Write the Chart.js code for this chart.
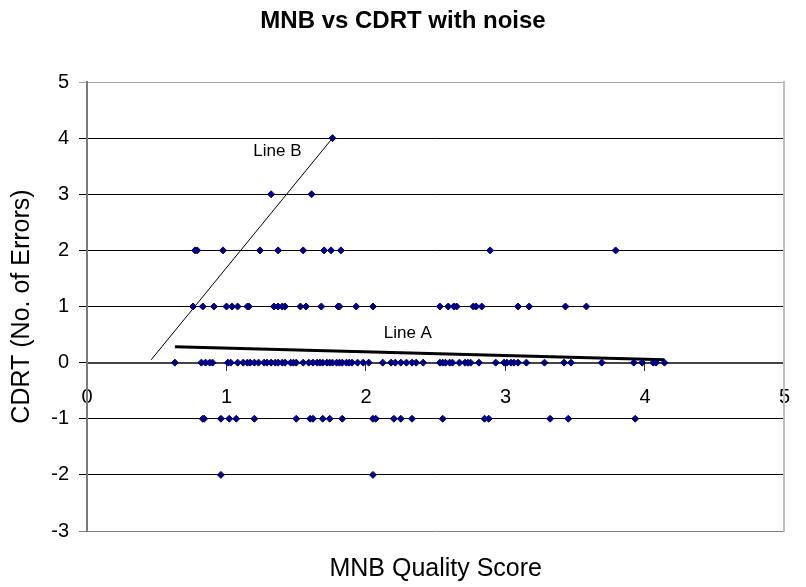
<!DOCTYPE html>
<html>
<head>
<meta charset="utf-8">
<script src="https://cdn.jsdelivr.net/npm/chart.js@4.4.1/dist/chart.umd.min.js"></script>
<style>
    html, body { margin: 0; padding: 0; background: #fff; }
    #contenedor { width: 806px; height: 587px; }
</style>
</head>
<body>
<div id="contenedor"><canvas id="myChart"></canvas></div>
<script>
// Puntuaciones MNB agrupadas por valor de CDRT
const mnbEn4 = [1.76];
const mnbEn3 = [1.32, 1.61];
const mnbEn2 = [0.775, 0.79, 0.975, 1.24, 1.37, 1.55, 1.70, 1.75, 1.82, 2.89, 3.79];
const mnbEn1 = [0.76, 0.83, 0.91, 1.00, 1.04, 1.08, 1.15, 1.16, 1.34, 1.37, 1.40, 1.42, 1.53, 1.57, 1.68,
    1.80, 1.81, 1.93, 2.05, 2.53, 2.59, 2.63, 2.65, 2.77, 2.79, 2.83, 3.09, 3.17, 3.43, 3.58];
const mnbEn0 = [0.63, 0.82, 0.85, 0.88, 0.90, 1.01, 1.03, 1.08, 1.12, 1.15, 1.17, 1.20, 1.23, 1.27, 1.29,
    1.32, 1.35, 1.37, 1.40, 1.42, 1.46, 1.48, 1.50, 1.55, 1.59, 1.62, 1.65, 1.67, 1.69, 1.72, 1.74, 1.76,
    1.79, 1.81, 1.83, 1.86, 1.88, 1.90, 1.94, 1.98, 2.02, 2.12, 2.18, 2.21, 2.25, 2.29, 2.33, 2.36, 2.41,
    2.53, 2.55, 2.57, 2.60, 2.62, 2.67, 2.71, 2.73, 2.75, 2.81, 2.93, 2.99, 3.01, 3.04, 3.06, 3.09, 3.15,
    3.28, 3.42, 3.47, 3.69, 3.92, 3.98, 4.06, 4.08, 4.14];
const mnbEnMenos1 = [0.83, 0.84, 0.96, 1.02, 1.07, 1.20, 1.50, 1.60, 1.62, 1.69, 1.74, 1.83, 2.05, 2.07,
    2.20, 2.25, 2.33, 2.55, 2.85, 2.88, 3.32, 3.45, 3.93];
const mnbEnMenos2 = [0.96, 2.05];

const nivelesCdrt = [4, 3, 2, 1, 0, -1, -2];
const grupos = [mnbEn4, mnbEn3, mnbEn2, mnbEn1, mnbEn0, mnbEnMenos1, mnbEnMenos2];

// Lineas dibujadas a mano en el original
const lineaAx = [0.63, 4.14];
const lineaAy = [0.285, 0.05];
const lineaBx = [0.46, 1.76];
const lineaBy = [0.05, 4.0];

// Etiquetas de las lineas (en unidades del grafico)
const etiquetas = ['Line A', 'Line B'];
const etiquetasX = [2.30, 1.365];
const etiquetasY = [0.53, 3.77];

const fuente = "'Liberation Sans', Arial, sans-serif";

document.addEventListener('DOMContentLoaded', function() {
    const ctx = document.getElementById('myChart').getContext('2d');

    // Construir los puntos
    const puntos = [];
    grupos.forEach((grupo, i) => {
        grupo.forEach(x => puntos.push({ x: x, y: nivelesCdrt[i] }));
    });

    const aPuntos = (xs, ys) => xs.map((x, i) => ({ x: x, y: ys[i] }));

    // Plugin para escribir "Line A" y "Line B"
    const textoLineas = {
        id: 'textoLineas',
        afterDatasetsDraw(chart) {
            const c = chart.ctx;
            const sx = chart.scales.x;
            const sy = chart.scales.y;
            c.save();
            c.font = '17px ' + fuente;
            c.fillStyle = '#000';
            c.textAlign = 'center';
            c.textBaseline = 'middle';
            etiquetas.forEach((t, i) => {
                c.fillText(t, sx.getPixelForValue(etiquetasX[i]), sy.getPixelForValue(etiquetasY[i]));
            });
            c.restore();
        }
    };

    new Chart(ctx, {
        type: 'scatter',
        data: {
            datasets: [{
                label: 'MNB vs CDRT',
                data: puntos,
                pointStyle: 'rectRot',
                pointRadius: 3.5,
                pointBorderWidth: 1,
                backgroundColor: '#000080',
                borderColor: '#000080',
                showLine: false
            }, {
                label: 'Line A',
                data: aPuntos(lineaAx, lineaAy),
                showLine: true,
                pointRadius: 0,
                borderColor: '#000',
                borderWidth: 3
            }, {
                label: 'Line B',
                data: aPuntos(lineaBx, lineaBy),
                showLine: true,
                pointRadius: 0,
                borderColor: '#000',
                borderWidth: 1
            }]
        },
        options: {
            responsive: true,
            maintainAspectRatio: false,
            animation: false,
            layout: { padding: 0 },
            plugins: {
                legend: { display: false },
                tooltip: { enabled: false },
                title: {
                    display: true,
                    text: 'MNB vs CDRT with noise',
                    color: '#000',
                    font: { family: fuente, size: 24, weight: 'bold' },
                    padding: { top: 7, bottom: 46.2 }
                }
            },
            scales: {
                x: {
                    type: 'linear',
                    position: { y: 0 },
                    min: 0,
                    max: 5,
                    afterFit: (s) => { s.height = 0; },
                    ticks: {
                        stepSize: 1,
                        color: '#000',
                        padding: 16,
                        font: { family: fuente, size: 20 }
                    },
                    grid: {
                        drawOnChartArea: false,
                        drawTicks: true,
                        tickLength: 7,
                        color: '#333'
                    },
                    border: { color: '#444', width: 2 }
                },
                xt: {
                    type: 'linear',
                    position: 'bottom',
                    min: 0,
                    max: 5,
                    afterFit: (s) => { s.height = 56; },
                    ticks: { display: false },
                    grid: { display: false },
                    border: { display: false },
                    title: {
                        display: true,
                        text: 'MNB Quality Score',
                        color: '#000',
                        font: { family: fuente, size: 25 },
                        padding: { top: 0, bottom: 3 }
                    }
                },
                y: {
                    type: 'linear',
                    position: 'left',
                    min: -3,
                    max: 5,
                    afterFit: (s) => { s.width = 87; },
                    ticks: {
                        stepSize: 1,
                        color: '#000',
                        padding: 10,
                        font: { family: fuente, size: 20 }
                    },
                    grid: {
                        tickLength: 8,
                        color: (c) => {
                            if (c.tick && c.tick.value === 5) return '#a8a8a8';
                            if (c.tick && c.tick.value === -3) return '#808080';
                            return '#000';
                        }
                    },
                    border: { color: '#7a7a7a', width: 2 },
                    title: {
                        display: true,
                        text: 'CDRT (No. of Errors)',
                        color: '#000',
                        font: { family: fuente, size: 25 },
                        padding: { top: 7, bottom: 0 }
                    }
                },
                y2: {
                    type: 'linear',
                    position: 'right',
                    min: -3,
                    max: 5,
                    afterFit: (s) => { s.width = 11; },
                    ticks: { display: false },
                    grid: { display: false },
                    border: { color: '#c0c0c0', width: 2 }
                }
            }
        },
        plugins: [textoLineas]
    });
});
</script>
</body>
</html>
